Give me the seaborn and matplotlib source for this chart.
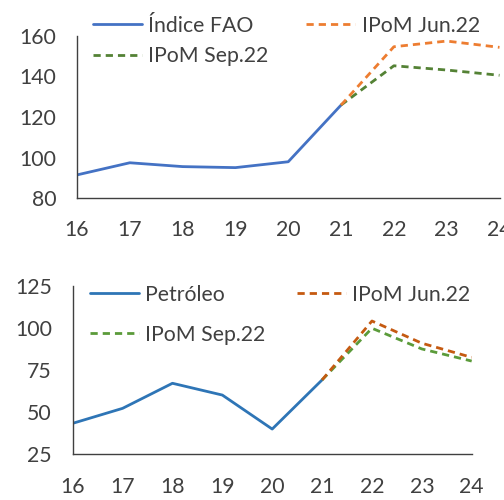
import matplotlib
matplotlib.use("Agg")
import matplotlib.pyplot as plt
import seaborn as sns
import pandas as pd

years = [16, 17, 18, 19, 20, 21, 22, 23, 24]
year_labels = ["16", "17", "18", "19", "20", "21", "22", "23", "24"]

fao_years = [16, 17, 18, 19, 20, 21]
fao_hist = [91.4, 97.4, 95.5, 95.0, 97.9, 125.9]
proj_years = [21, 22, 23, 24]
fao_jun = [125.9, 154.7, 157.5, 154.4]
fao_sep = [125.9, 145.3, 143.2, 140.6]

oil_hist = [43.4, 52.3, 67.2, 60.2, 40.0, 69.2]
oil_jun = [69.2, 104.2, 91.0, 82.6]
oil_sep = [69.2, 99.9, 87.6, 80.4]

sns.set_style("white")
plt.rcParams["font.family"] = ["Lato", "DejaVu Sans"]
text_col = "#404040"
spine_col = "#404040"
fs = 15.3

fig = plt.figure(figsize=(5.04, 5.0), dpi=100)
ax1 = fig.add_axes([77/504, 1-198/500, (499.5-77)/504, (198-36)/500])
ax2 = fig.add_axes([72.7/504, 1-454.3/500, (471.7-72.7)/504, (454.3-286)/500])

dash = (2.6, 1.8)
lw = 2.0

def draw(ax, hist, jun, sep, c_hist, c_jun, c_sep, lab):
    sns.lineplot(x=fao_years, y=hist, ax=ax, color=c_hist, lw=lw, label=lab)
    sns.lineplot(x=proj_years, y=sep, ax=ax, color=c_sep, lw=lw, label="IPoM Sep.22")
    sns.lineplot(x=proj_years, y=jun, ax=ax, color=c_jun, lw=lw, label="IPoM Jun.22")
    for l in ax.get_lines()[1:]:
        l.set_dashes(dash)
    ax.set_xlim(16, 24)
    ax.set_xticks(years)
    ax.set_xticklabels(year_labels)
    for s in ["top", "right"]:
        ax.spines[s].set_visible(False)
    for s in ["left", "bottom"]:
        ax.spines[s].set_color(spine_col)
        ax.spines[s].set_linewidth(1.0)
    ax.tick_params(axis="both", direction="out", length=6, width=1.0,
                   color=spine_col, labelcolor=text_col, labelsize=fs)
    ax.tick_params(axis="y", pad=9)
    ax.tick_params(axis="x", pad=10)
    ax.set_xlabel("")
    ax.set_ylabel("")
    ax.legend_.remove()

draw(ax1, fao_hist, fao_jun, fao_sep, "#4472C4", "#ED7D31", "#548235", "Índice FAO")
ax1.set_ylim(80, 160)
ax1.set_yticks([80, 100, 120, 140, 160])
draw(ax2, oil_hist, oil_jun, oil_sep, "#2E75B6", "#C55A11", "#5B9B3A", "Petróleo")
ax2.set_ylim(25, 125)
ax2.set_yticks([25, 50, 75, 100, 125])

for ax, anchor, lsp, csp in [(ax1, (82/504, 1-5/500), 0.5, 1.8),
                             (ax2, (79/504, 1-274/500), 0.95, 1.5)]:
    h, l = ax.get_legend_handles_labels()
    leg = ax.legend(h, l, ncol=2, loc="upper left", bbox_to_anchor=anchor,
                    bbox_transform=fig.transFigure, frameon=False,
                    fontsize=fs, handlelength=2.3, handletextpad=0.3,
                    columnspacing=csp, labelspacing=lsp, borderpad=0)
    for t in leg.get_texts():
        t.set_color(text_col)
    for line in leg.get_lines()[1:]:
        line.set_dashes(dash)

fig.savefig("out.png", dpi=100)
